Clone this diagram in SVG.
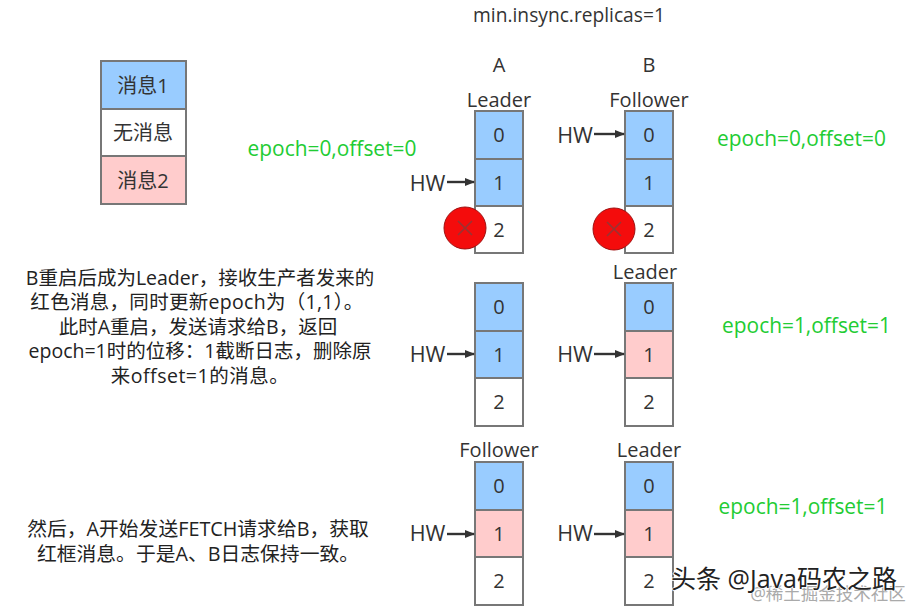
<svg xmlns="http://www.w3.org/2000/svg" width="914" height="610" viewBox="0 0 914 610">
<style>
text{font-family:"Open Sans","Noto Sans CJK SC",sans-serif;fill:#333;text-anchor:middle}
.t{font-size:20px}
.h{font-size:21.5px}
.c{font-size:20px}
.g{font-size:20.9px;fill:#22cc33}
.d{font-size:19.5px;fill:#222}
.e{font-size:19.8px;fill:#222}
.w{fill:#fff}.b{fill:#99ccff}.p{fill:#ffcccc}
rect{stroke:#777;stroke-width:2}
.x{fill:#f40c0c;stroke:#a01010;stroke-width:1}
.xx{stroke:#993333;stroke-width:1.6;fill:none}
.a{stroke:#333;stroke-width:2.4;fill:none;marker-end:url(#m)}
</style>
<defs><marker id="m" markerWidth="10" markerHeight="8" refX="9" refY="4" orient="auto" markerUnits="userSpaceOnUse"><path d="M0 0L10 4L0 8z" fill="#333"/></marker></defs>
<rect width="914" height="610" style="fill:#fff;stroke:none"/>
<text style="font-size:19.2px" x="569" y="22">min.insync.replicas=1</text>
<text class="t" x="499" y="72">A</text><text class="t" x="649" y="72">B</text>
<g id="legend">
<rect class="b" x="101" y="61" width="85" height="48"/><rect class="w" x="101" y="109" width="85" height="47"/><rect class="p" x="101" y="156" width="85" height="48"/>
<text class="c" x="143" y="93">消息1</text><text class="c" x="143" y="140">无消息</text><text class="c" x="143" y="188">消息2</text>
</g>
<g id="a1">
<rect class="b" x="475" y="111" width="48" height="48"/><rect class="b" x="475" y="159" width="48" height="47"/><rect class="w" x="475" y="206" width="48" height="47"/>
<text class="c" x="499" y="142">0</text><text class="c" x="499" y="190">1</text><text class="c" x="499" y="237">2</text><text class="t" x="499" y="107">Leader</text>
<text class="h" x="427.500" y="191">HW</text>
<circle class="x" cx="465" cy="228" r="21"/><path class="xx" d="M458 221L472 235M472 221L458 235"/>
</g>
<g id="b1">
<rect class="b" x="625" y="111" width="48" height="48"/><rect class="b" x="625" y="159" width="48" height="47"/><rect class="w" x="625" y="206" width="48" height="47"/>
<text class="c" x="649" y="142">0</text><text class="c" x="649" y="190">1</text><text class="c" x="649" y="237">2</text><text class="t" x="649" y="107">Follower</text>
<text class="h" x="575" y="143">HW</text>
<circle class="x" cx="614" cy="229" r="21"/><path class="xx" d="M607 222L621 236M621 222L607 236"/>
</g>
<g id="a2">
<rect class="b" x="475" y="283" width="48" height="48"/><rect class="b" x="475" y="331" width="48" height="47"/><rect class="w" x="475" y="378" width="48" height="48"/>
<text class="c" x="499" y="314">0</text><text class="c" x="499" y="362">1</text><text class="c" x="499" y="409">2</text>
<text class="h" x="427.500" y="362">HW</text>
</g>
<g id="b2">
<rect class="b" x="625" y="283" width="48" height="48"/><rect class="p" x="625" y="331" width="48" height="47"/><rect class="w" x="625" y="378" width="48" height="48"/>
<text class="c" x="649" y="314">0</text><text class="c" x="649" y="362">1</text><text class="c" x="649" y="409">2</text><text class="t" x="645" y="279">Leader</text>
<text class="h" x="575" y="362">HW</text>
</g>
<g id="a3">
<rect class="b" x="475" y="462" width="48" height="48"/><rect class="p" x="475" y="510" width="48" height="47"/><rect class="w" x="475" y="557" width="48" height="48"/>
<text class="c" x="499" y="493">0</text><text class="c" x="499" y="541">1</text><text class="c" x="499" y="588">2</text><text class="t" x="499" y="457">Follower</text>
<text class="h" x="427.500" y="541">HW</text>
</g>
<g id="b3">
<rect class="b" x="625" y="462" width="48" height="48"/><rect class="p" x="625" y="510" width="48" height="47"/><rect class="w" x="625" y="557" width="48" height="48"/>
<text class="c" x="649" y="493">0</text><text class="c" x="649" y="541">1</text><text class="c" x="649" y="588">2</text><text class="t" x="649" y="457">Leader</text>
<text class="h" x="575" y="541">HW</text>
</g>
<g id="connectors">
<path class="a" d="M447 182H474"/><path class="a" d="M594 134H624"/>
<path class="a" d="M447 354H474"/><path class="a" d="M594 354H624"/>
<path class="a" d="M447 534H474"/><path class="a" d="M594 534H624"/>
</g>
<text class="g" x="332" y="156">epoch=0,offset=0</text>
<text class="g" x="801.500" y="146">epoch=0,offset=0</text>
<text class="g" x="806.500" y="333">epoch=1,offset=1</text>
<text class="g" x="803" y="514">epoch=1,offset=1</text>
<g class="note">
<text class="d" x="200" y="285">B重启后成为Leader，接收生产者发来的</text>
<text class="d" x="197" y="309" style="letter-spacing:.3px">红色消息，同时更新epoch为（1,1）。</text>
<text class="d" x="198" y="334">此时A重启，发送请求给B，返回</text>
<text class="d" x="200" y="358">epoch=1时的位移：1截断日志，删除原</text>
<text class="d" x="200" y="383" style="letter-spacing:.5px">来offset=1的消息。</text>
<text class="e" x="198" y="536">然后，A开始发送FETCH请求给B，获取</text>
<text class="e" x="198" y="561">红框消息。于是A、B日志保持一致。</text>
</g>
<text x="828" y="600" style="font-size:17.500px;fill:#aaa">@稀土掘金技术社区</text>
<text x="784" y="588" style="font-size:25px;fill:#222;stroke:#fff;stroke-width:1.500px;paint-order:stroke">头条 @Java码农之路</text>
</svg>
